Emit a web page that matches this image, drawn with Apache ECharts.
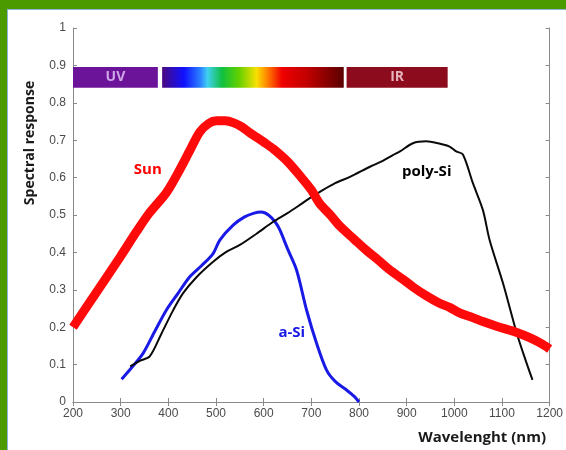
<!DOCTYPE html>
<html><head><meta charset="utf-8">
<script src="https://cdn.jsdelivr.net/npm/echarts@6/dist/echarts.min.js"></script>
<style>
html,body{margin:0;padding:0;background:#fff;}
#wrap{position:absolute;left:0;top:0;width:566px;height:450px;background:#4b9a00;}
#inner{position:absolute;left:7px;top:9px;width:559px;height:441px;background:#fff;border-top:1px solid #8fb0d8;border-left:1px solid #8fb0d8;box-sizing:border-box;}
#chart{position:absolute;left:0;top:0;width:566px;height:450px;}
</style></head>
<body>
<div id="wrap"><div id="inner"></div></div>
<div id="chart"></div>
<script>
const xTicks = [200,300,400,500,600,700,800,900,1000,1100,1200];
const yTicks = [0,0.1,0.2,0.3,0.4,0.5,0.6,0.7,0.8,0.9,1];

const sun = [[200,0.2],[250,0.295],[300,0.39],[333,0.455],[360,0.505],[396,0.56],[420,0.612],[445,0.672],[466,0.722],[485,0.745],[501,0.752],[520,0.752],[536,0.747],[555,0.735],[571,0.72],[600,0.695],[620,0.677],[650,0.643],[676,0.605],[700,0.567],[718,0.53],[740,0.5],[760,0.47],[790,0.435],[816,0.405],[840,0.38],[865,0.353],[890,0.33],[913,0.308],[940,0.285],[969,0.264],[990,0.253],[1011,0.238],[1040,0.225],[1060,0.215],[1090,0.202],[1131,0.186],[1158,0.172],[1180,0.158],[1200,0.142]];

const polySi = [[320,0.095],[340,0.11],[361,0.122],[386,0.184],[410,0.245],[431,0.291],[460,0.335],[494,0.375],[520,0.4],[550,0.42],[585,0.45],[620,0.482],[650,0.505],[676,0.527],[700,0.548],[718,0.562],[750,0.585],[781,0.602],[823,0.629],[850,0.645],[871,0.66],[886,0.67],[913,0.692],[941,0.697],[965,0.692],[990,0.683],[1004,0.67],[1018,0.662],[1039,0.585],[1060,0.513],[1074,0.433],[1102,0.318],[1131,0.184],[1150,0.11],[1164,0.059]];

const aSi = [[302,0.061],[325,0.095],[347,0.13],[372,0.19],[396,0.246],[420,0.29],[445,0.335],[470,0.365],[494,0.397],[508,0.433],[536,0.473],[560,0.495],[580,0.505],[595,0.508],[610,0.5],[625,0.48],[634,0.46],[650,0.41],[669,0.353],[690,0.246],[711,0.157],[732,0.085],[750,0.055],[774,0.032],[790,0.015],[800,0.0]];

const bands = [
  {name:'UV', from:200, to:378},
  {name:'', from:387, to:768},
  {name:'IR', from:774, to:986}
];
const bandLow = 0.84, bandHigh = 0.896;

const curveLabels = [
  {name:'Sun', coord:[357,0.62], color:'#ff0000'},
  {name:'poly-Si', coord:[942,0.615], color:'#000000'},
  {name:'a-Si', coord:[659,0.184], color:'#1818e8'}
];

const chart = echarts.init(document.getElementById('chart'), null, {renderer:'canvas'});
const axisGray = '#8a8a8a';
const tickFont = {color:'#4a4a4a', fontSize:12, fontFamily:'Liberation Sans, Arial, sans-serif'};

const spectrumGrad = new echarts.graphic.LinearGradient(0,0,1,0,[
  {offset:0,color:'#4a0a80'},{offset:0.12,color:'#1010ff'},{offset:0.21,color:'#2a80ff'},
  {offset:0.25,color:'#40d0f0'},{offset:0.33,color:'#10c040'},{offset:0.42,color:'#60d000'},
  {offset:0.52,color:'#f8e000'},{offset:0.58,color:'#ff8000'},{offset:0.66,color:'#f00000'},
  {offset:0.8,color:'#c00000'},{offset:1,color:'#5a0000'}
]);
const bandStyles = [
  {color:'#6c1499', label:'#cfa6e6'},
  {color:spectrumGrad, label:'#fff'},
  {color:'#8c0c1e', label:'#e6b3bc'}
];

function mkLabelSeries(l){
  return {type:'scatter', data:[l.coord], symbolSize:0, silent:true, itemStyle:{opacity:1},
    label:{show:true, position:'inside', formatter:l.name, color:l.color, opacity:1, fontSize:15, fontWeight:'bold', fontFamily:'Open Sans, sans-serif'}};
}

chart.setOption({
  animation:false,
  grid:{left:73, right:16, top:28, bottom:48},
  xAxis:[
    {type:'value', min:200, max:1200, interval:100,
     axisLine:{lineStyle:{color:axisGray}}, axisTick:{inside:true, length:4, lineStyle:{color:axisGray}},
     axisLabel:Object.assign({margin:6, formatter:v=>xTicks.includes(v)?String(v):''}, tickFont), splitLine:{show:false}},
    {type:'value', min:200, max:1200, interval:100, position:'top',
     axisLine:{show:true, lineStyle:{color:axisGray}}, axisTick:{inside:true, length:4, lineStyle:{color:axisGray}},
     axisLabel:{show:false}, splitLine:{show:false}}
  ],
  yAxis:[
    {type:'value', min:0, max:1, interval:0.1,
     axisLine:{show:true, lineStyle:{color:axisGray}}, axisTick:{show:true, inside:true, length:4, lineStyle:{color:axisGray}},
     axisLabel:Object.assign({margin:7, formatter:v=>{const t=yTicks.find(y=>Math.abs(y-v)<1e-6); return t===undefined?'':String(t);}}, tickFont), splitLine:{show:false}},
    {type:'value', min:0, max:1, interval:0.1, position:'right',
     axisLine:{show:true, lineStyle:{color:axisGray}}, axisTick:{show:true, inside:true, length:4, lineStyle:{color:axisGray}},
     axisLabel:{show:false}, splitLine:{show:false}}
  ],
  graphic:[
    {type:'text', x:30, y:143, rotation:Math.PI/2,
     style:{text:'Spectral response', fill:'#1a1a1a', font:'bold 14px "Open Sans", sans-serif', textAlign:'center', textVerticalAlign:'middle'}},
    {type:'text', x:546, y:438,
     style:{text:'Wavelenght (nm)', fill:'#1a1a1a', font:'bold 15px "Open Sans", sans-serif', textAlign:'right', textVerticalAlign:'middle'}}
  ],
  series:[
    {type:'line', name:'bands', data:[], silent:true,
     markArea:{silent:true, data:bands.map((b,i)=>[
       {xAxis:b.from, yAxis:bandLow, itemStyle:{color:bandStyles[i].color},
        label:{show:b.name!=='', position:'inside', formatter:b.name, color:bandStyles[i].label, fontSize:14, fontWeight:'bold', fontFamily:'Open Sans, sans-serif'}},
       {xAxis:b.to, yAxis:bandHigh}
     ])}},
    {type:'line', name:'a-Si', data:aSi, showSymbol:false, smooth:0.3, lineStyle:{color:'#1a1ae6', width:3}},
    {type:'line', name:'poly-Si', data:polySi, showSymbol:false, smooth:0.3, lineStyle:{color:'#0a0a0a', width:2}},
    {type:'line', name:'Sun', data:sun, showSymbol:false, smooth:0.3, lineStyle:{color:'#ff0a0a', width:9}},
    ...curveLabels.map(mkLabelSeries)
  ]
});
</script>
</body></html>
